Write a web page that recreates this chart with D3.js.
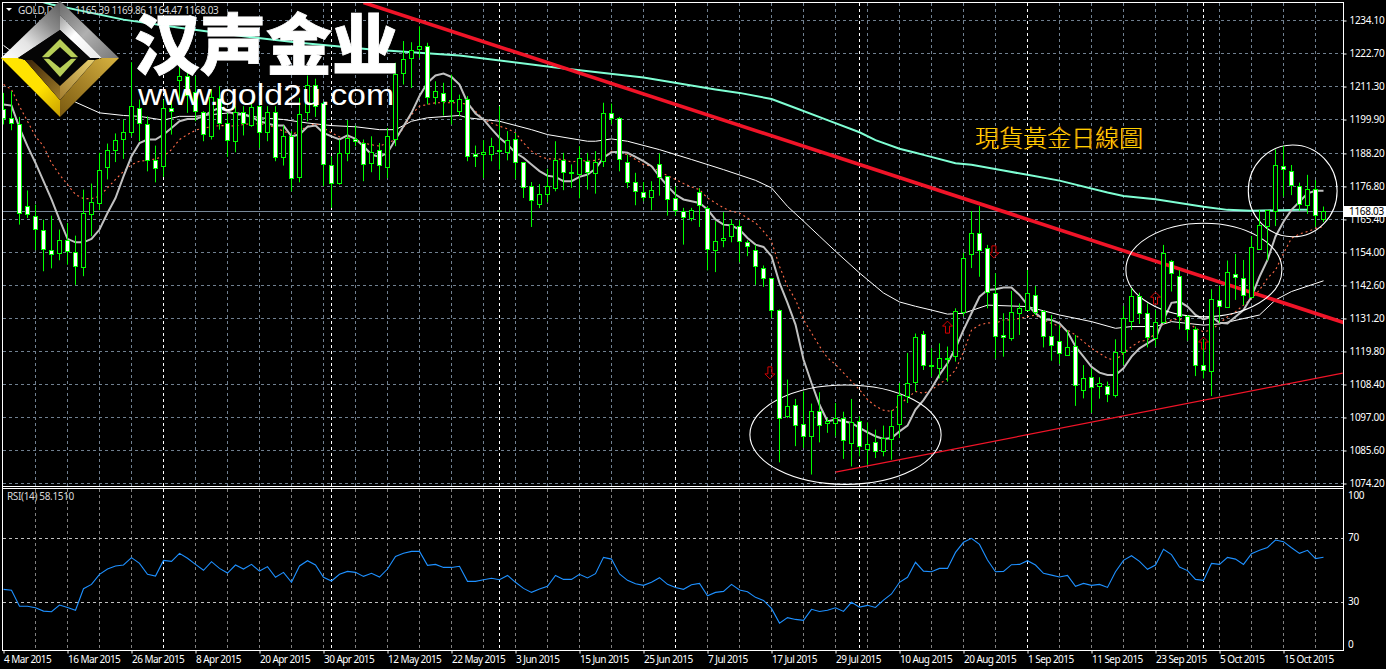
<!DOCTYPE html>
<html><head><meta charset="utf-8"><title>GOLD Daily</title>
<script src="https://cdnjs.cloudflare.com/ajax/libs/d3/7.8.5/d3.min.js"></script>
<style>html,body{margin:0;padding:0;background:#000;overflow:hidden}svg{display:block}text{font-family:"Noto Sans",sans-serif}</style>
</head><body><div id="c"></div>
<script>
const highs=[1209.1,1209.7,1200.8,1175.4,1170.5,1165.3,1166.7,1161.9,1164.2,1159.8,1175.7,1177.8,1188.4,1191.6,1195.1,1199.9,1219.7,1206.8,1201.0,1190.9,1206.8,1208.0,1218.3,1217.2,1214.9,1202.8,1210.3,1211.4,1202.2,1204.5,1204.5,1206.8,1206.8,1204.5,1204.5,1197.8,1195.9,1207.4,1215.1,1214.0,1206.2,1187.2,1193.0,1199.7,1197.8,1193.0,1194.1,1191.8,1197.0,1219.5,1227.0,1226.6,1232.1,1226.4,1213.1,1212.6,1215.4,1208.5,
1208.0,1190.9,1192.8,1193.6,1204.5,1195.9,1195.3,1185.2,1178.3,1177.6,1182.9,1192.4,1188.4,1184.4,1190.7,1188.4,1189.0,1205.7,1205.4,1200.8,1187.8,1181.5,1178.3,1178.6,1188.2,1180.3,1176.9,1169.4,1169.4,1176.2,1170.0,1164.8,1167.9,1165.4,1165.1,1158.2,1156.6,1149.5,1145.2,1134.3,1110.1,1103.4,1106.0,1101.8,1105.7,1096.8,1102.0,1099.0,1103.4,1097.4,1095.3,1092.8,1094.2,1099.5,1108.9,1119.3,1126.0,
1126.9,1120.9,1122.6,1121.5,1134.7,1153.9,1168.3,1170.0,1156.6,1146.8,1133.0,1140.7,1136.4,1147.9,1142.4,1134.1,1132.4,1128.9,1127.2,1125.5,1115.1,1114.0,1110.9,1109.4,1124.0,1135.5,1141.6,1140.1,1136.4,1134.1,1156.6,1151.4,1147.9,1132.4,1128.4,1124.0,1141.3,1142.4,1151.2,1153.5,1151.4,1159.7,1168.7,1168.7,1189.6,1190.8,1184.2,1178.1,1180.8,1179.0,1169.86];
const lows=[1198.2,1196.2,1163.6,1165.9,1154.8,1147.5,1148.5,1151.3,1149.8,1142.8,1145.8,1159.6,1168.6,1179.2,1185.2,1186.3,1194.1,1192.4,1182.0,1178.2,1180.1,1194.7,1206.8,1202.2,1199.3,1192.4,1193.0,1196.4,1187.0,1188.6,1194.4,1197.4,1190.1,1192.4,1185.5,1184.0,1175.1,1178.2,1199.3,1200.8,1176.9,1169.4,1177.4,1185.5,1190.7,1178.6,1181.7,1179.0,1179.7,1190.7,1212.0,1210.8,1221.2,1205.1,1205.1,1201.3,1198.2,1201.0,
1185.5,1183.5,1179.7,1185.5,1182.6,1185.8,1179.4,1172.8,1162.8,1169.3,1171.3,1175.1,1175.5,1176.3,1172.7,1175.7,1174.3,1183.5,1198.2,1182.0,1176.2,1170.3,1171.7,1168.6,1173.6,1166.7,1166.7,1156.7,1164.8,1162.8,1147.8,1147.2,1155.8,1157.5,1150.6,1152.7,1142.8,1142.1,1131.3,1081.5,1096.8,1087.1,1086.5,1077.3,1088.4,1091.7,1090.5,1082.7,1080.1,1083.6,1080.7,1083.0,1083.6,1082.4,1089.9,1102.0,1106.0,
1113.4,1111.1,1110.5,1109.4,1116.3,1132.0,1148.6,1145.6,1134.7,1117.3,1118.0,1123.5,1125.5,1133.9,1132.4,1121.2,1116.6,1115.5,1118.5,1101.0,1103.6,1098.6,1103.5,1102.3,1103.9,1115.1,1127.2,1129.3,1121.2,1121.5,1129.5,1140.5,1127.4,1123.5,1111.3,1110.5,1104.4,1129.7,1134.8,1137.6,1135.8,1138.2,1155.1,1151.2,1163.1,1173.3,1173.8,1168.4,1167.3,1162.9,1164.47];
const opens=[1203.3,1200.1,1198.2,1170.0,1166.5,1161.7,1154.8,1153.8,1158.2,1154.1,1149.0,1167.0,1171.1,1183.5,1189.3,1192.8,1195.5,1203.6,1198.3,1185.8,1183.5,1203.6,1213.1,1214.6,1209.1,1202.4,1193.9,1207.0,1198.4,1192.4,1202.4,1197.8,1204.5,1195.6,1202.4,1186.7,1193.9,1180.1,1202.2,1211.6,1205.4,1184.1,1177.8,1188.0,1193.0,1191.6,1184.7,1189.3,1183.2,1193.0,1215.8,1221.2,1224.1,1225.2,1207.7,1208.9,1206.3,1202.8,
1206.8,1187.7,1187.7,1187.7,1189.3,1188.7,1193.0,1185.2,1176.6,1170.6,1173.9,1176.3,1185.8,1181.5,1180.8,1185.5,1181.5,1185.3,1201.9,1200.1,1185.2,1178.3,1174.6,1172.8,1184.2,1180.1,1172.5,1168.2,1165.8,1174.6,1169.3,1154.8,1158.2,1159.4,1163.1,1157.5,1154.8,1148.6,1145.1,1134.0,1097.4,1101.2,1094.7,1090.7,1099.2,1094.9,1095.1,1096.7,1088.2,1095.7,1085.9,1088.2,1085.2,1089.4,1094.4,1104.5,1108.9,
1125.8,1115.1,1113.9,1117.3,1117.8,1133.5,1153.2,1160.6,1155.4,1139.9,1125.4,1124.4,1133.0,1133.9,1139.2,1133.7,1124.9,1123.2,1118.5,1121.5,1106.3,1110.9,1107.9,1107.6,1104.8,1119.2,1130.2,1138.9,1133.0,1124.3,1130.0,1150.9,1145.6,1131.8,1127.4,1115.0,1112.9,1137.3,1134.8,1146.4,1144.9,1138.7,1155.1,1162.9,1168.2,1183.6,1181.9,1176.7,1170.3,1175.8,1165.39];
const closes=[1200.1,1198.5,1167.3,1167.4,1161.9,1155.2,1153.5,1158.2,1154.4,1149.2,1167.6,1171.1,1182.4,1189.3,1192.8,1195.3,1204.5,1198.3,1185.8,1183.1,1203.6,1202.4,1214.6,1208.0,1202.4,1194.7,1207.4,1198.4,1192.5,1202.4,1198.5,1203.9,1195.6,1202.4,1187.0,1193.9,1179.4,1201.7,1211.6,1204.5,1184.2,1178.0,1188.0,1193.2,1192.2,1184.2,1188.4,1184.0,1193.9,1215.6,1220.6,1223.8,1225.2,1207.7,1209.7,1206.1,1205.9,1206.8,
1187.0,1187.0,1188.4,1190.5,1189.0,1192.8,1184.9,1176.6,1171.8,1173.9,1176.6,1185.8,1181.8,1181.2,1186.3,1181.8,1185.2,1201.9,1200.1,1186.1,1178.4,1175.3,1172.8,1175.3,1179.7,1172.0,1168.2,1166.3,1168.6,1170.0,1155.2,1157.9,1158.9,1163.5,1158.0,1156.1,1149.2,1145.2,1134.2,1096.8,1100.9,1094.2,1090.7,1099.2,1094.2,1095.5,1096.7,1089.0,1095.3,1087.1,1087.7,1085.2,1089.6,1093.9,1104.5,1108.9,1124.5,
1115.0,1114.8,1117.4,1117.5,1133.5,1152.0,1160.6,1154.6,1140.1,1124.9,1124.6,1133.3,1134.7,1139.9,1133.5,1124.9,1121.9,1119.2,1121.2,1107.9,1110.5,1107.6,1108.8,1104.9,1119.6,1131.1,1138.9,1133.0,1124.7,1129.7,1153.7,1146.6,1131.8,1127.2,1114.8,1113.2,1137.8,1135.3,1147.0,1145.4,1139.0,1155.8,1163.4,1168.4,1184.1,1182.7,1177.0,1170.5,1175.8,1166.8,1168.03];
const fastMA=[1205.1,1204.7,1197.0,1190.7,1184.9,1178.6,1172.3,1165.3,1158.7,1157.5,1157.5,1158.7,1161.9,1167.6,1172.8,1180.3,1187.2,1191.8,1193.0,1193.0,1194.7,1197.0,1199.3,1200.1,1200.1,1201.0,1202.8,1203.9,1202.8,1201.6,1201.6,1200.8,1199.3,1198.5,1197.8,1197.8,1194.1,1194.7,1197.4,1197.8,1195.3,1194.1,1193.0,1194.4,1193.2,1190.7,1187.8,1187.0,1188.4,1193.0,1197.6,1202.2,1208.0,1212.6,1215.1,1215.8,1214.6,1212.0,
1205.7,1202.0,1199.9,1196.7,1193.6,1191.3,1188.4,1186.7,1184.4,1182.1,1180.5,1180.1,1178.6,1178.6,1180.1,1180.9,1182.9,1186.7,1188.6,1188.8,1188.4,1187.0,1185.5,1183.8,1180.3,1176.9,1174.0,1172.3,1171.7,1171.1,1168.8,1165.4,1163.6,1163.3,1161.9,1159.0,1156.7,1155.9,1152.7,1143.5,1136.6,1129.1,1117.0,1108.9,1101.4,1095.7,1096.3,1095.7,1095.1,1093.4,1091.9,1090.5,1089.6,1089.9,1092.2,1094.2,1099.7,
1103.0,1107.1,1111.7,1115.7,1120.9,1127.2,1133.0,1138.7,1141.0,1141.3,1141.9,1141.9,1139.3,1135.8,1133.0,1130.9,1130.7,1129.5,1126.6,1121.5,1118.0,1114.5,1112.5,1111.7,1111.7,1114.0,1118.0,1120.9,1122.6,1124.3,1130.7,1136.6,1137.0,1135.3,1132.4,1130.9,1131.8,1129.7,1129.5,1131.8,1134.1,1138.7,1145.6,1151.4,1159.5,1164.6,1168.7,1171.5,1174.4,1175.3,1175.3];
const dottedMA=[1212.0,1210.3,1204.5,1199.3,1194.1,1190.7,1184.9,1180.9,1177.4,1174.0,1172.6,1172.6,1173.4,1176.3,1179.2,1182.0,1184.3,1185.5,1185.8,1186.3,1187.2,1189.5,1193.0,1194.7,1196.2,1197.0,1197.4,1197.8,1197.8,1197.6,1198.2,1198.5,1198.4,1198.2,1197.0,1195.9,1194.7,1195.9,1197.6,1198.5,1197.0,1195.3,1193.9,1193.6,1193.0,1191.8,1191.2,1190.7,1191.8,1193.0,1197.0,1201.6,1204.5,1205.1,1205.7,1205.7,1205.7,1205.7,
1205.1,1202.8,1199.9,1198.7,1197.6,1196.7,1195.3,1191.8,1189.0,1187.2,1186.3,1186.3,1186.1,1185.2,1185.8,1185.5,1185.8,1186.7,1189.0,1188.4,1187.8,1186.1,1184.4,1183.8,1182.0,1180.5,1179.2,1177.8,1176.6,1175.7,1172.8,1171.1,1169.4,1168.2,1167.6,1165.9,1164.2,1161.3,1157.9,1149.2,1142.3,1137.7,1130.8,1126.2,1121.6,1117.6,1115.3,1112.4,1109.5,1106.6,1103.2,1100.9,1099.5,1099.1,1101.4,1103.8,1106.0,
1105.3,1106.5,1108.6,1110.5,1113.4,1119.7,1127.2,1128.9,1129.7,1129.5,1130.7,1130.7,1131.2,1131.8,1132.4,1130.7,1129.5,1128.4,1127.2,1125.5,1123.2,1120.9,1119.2,1117.4,1116.8,1119.2,1121.5,1123.2,1123.8,1126.0,1129.5,1130.7,1130.9,1130.1,1127.8,1126.6,1127.2,1129.5,1131.8,1133.5,1135.8,1138.1,1141.0,1145.1,1147.9,1153.7,1158.9,1160.4,1161.2,1162.3,1162.9];
const midMAIdx=[0,4,9,12,15,17,20,22,24,26,29,32,35,38,41,44,47,49,51,53,57,58,62,66,68,73,74,76,78,82,86,90,94,96,98,100,102,104,107,110,112,114,116,118,120,123,128,132,136,139,141,144,146,150,152,157,159,161,165];
const midMAVal=[1225.5,1217.2,1205.9,1202.2,1201.3,1201.0,1199.7,1201.0,1201.0,1201.6,1202.4,1200.5,1199.9,1198.7,1197.8,1197.4,1196.4,1196.4,1199.3,1200.5,1201.3,1200.5,1199.3,1196.4,1194.7,1192.4,1192.4,1193.2,1192.4,1189.5,1186.1,1182.6,1178.9,1176.3,1169.9,1164.8,1159.6,1154.4,1146.9,1140.0,1136.9,1135.4,1134.1,1132.7,1133.0,1135.8,1135.3,1132.4,1130.1,1127.8,1128.4,1128.4,1130.1,1128.9,1129.3,1132.4,1137.6,1140.5,1144.2];
const slowMAIdx=[5,6,15,22,30,37,46,57,69,80,89,92,96,99,103,107,109,112,114,115,119,121,125,128,132,138,140,144,150,153,156,162,163];
const slowMAVal=[1240.4,1239.6,1234.4,1231.6,1228.7,1226.4,1224.1,1222.0,1217.9,1214.4,1210.3,1209.1,1207.0,1203.9,1199.7,1195.5,1192.8,1189.8,1188.4,1187.7,1184.8,1184.3,1182.3,1180.8,1178.8,1174.7,1173.5,1172.4,1169.8,1168.7,1168.4,1168.7,1168.7];
const rsiValues=[38.1,37.5,27.5,27.5,26.6,24.5,24.1,28.3,26.8,25.0,38.5,41.2,47.5,50.8,52.7,53.3,57.9,54.3,47.5,46.4,56.2,55.6,60.6,57.5,53.7,50.0,55.4,51.2,48.3,53.3,50.8,53.7,49.5,52.3,45.6,48.7,42.5,52.7,56.0,53.3,45.6,43.3,47.5,49.3,48.7,46.2,48.1,45.8,50.8,58.7,60.6,61.8,61.8,53.1,53.7,51.8,51.8,52.5,
43.1,43.1,44.1,45.0,44.1,46.8,42.5,38.7,36.2,38.3,40.0,46.8,44.3,44.3,47.5,45.2,47.9,58.1,57.0,47.7,43.7,41.6,40.6,42.5,45.4,41.2,39.3,38.1,41.0,41.8,34.1,36.2,36.8,41.2,37.7,36.6,33.1,31.2,26.2,17.0,20.4,19.3,18.7,25.6,24.3,25.0,26.6,24.3,30.0,27.0,28.1,26.8,31.4,35.2,42.5,45.6,55.0,
49.5,49.1,51.2,51.2,61.2,67.5,70.0,66.2,56.4,49.1,49.3,53.5,53.7,56.0,53.3,48.1,47.0,45.8,46.8,40.0,41.8,40.6,41.2,39.3,49.1,56.2,59.1,55.6,50.6,53.3,63.1,59.8,52.0,49.8,44.3,43.7,54.3,53.7,58.1,57.0,53.7,60.4,62.5,64.3,68.9,67.9,64.1,60.6,62.5,57.3,58.15];
const priceTicks=[1234.10,1222.70,1211.30,1199.90,1188.20,1176.80,1165.40,1154.00,1142.60,1131.20,1119.80,1108.40,1097.00,1085.60,1074.20];
const rsiLevels=[70,30];
const rsiLabels=[100,70,30,0];
const dateIdx=[0,8,16,24,32,40,48,56,64,72,80,88,96,104,112,120,128,136,144,152,160];
const dateLabels=["4 Mar 2015","16 Mar 2015","26 Mar 2015","8 Apr 2015","20 Apr 2015","30 Apr 2015","12 May 2015","22 May 2015","3 Jun 2015","15 Jun 2015","25 Jun 2015","7 Jul 2015","17 Jul 2015","29 Jul 2015","10 Aug 2015","20 Aug 2015","1 Sep 2015","11 Sep 2015","23 Sep 2015","5 Oct 2015","15 Oct 2015"];
const monthStartIdx=[20,41,62,84,107,128,150];
const trendThick=[[45,1240.3],[167.5,1129.8]];
const trendThin=[[104,1078.1],[167.4,1112.3]];
const ellipses=[[93.3,1108.2,117.2,1073.9],[140.3,1164.1,159.8,1131.8],[155.6,1191.1,166.7,1159.4]];
const arrowsDown=[[95.8,1112.4],[123.8,1154.2]];
const arrowsUp=[[118,1128.2],[144,1138.2],[150,1122.7]];

const W=1386,H=669,paneR=1343.5;
const x=d3.scaleLinear().domain([0,165]).range([3.5,1323.5]);
const y=d3.scaleLinear().domain([1074.2,1234.1]).range([483.5,20.5]);
const yr=d3.scaleLinear().domain([0,100]).range([650.3,490.3]);
const px=v=>Math.round(v-.5)+.5;
const svg=d3.select("#c").append("svg").attr("width",W).attr("height",H).attr("viewBox",`0 0 ${W} ${H}`);
const defs=svg.append("defs");
defs.append("clipPath").attr("id","mainClip").append("rect").attr("x",3).attr("y",3).attr("width",paneR-3).attr("height",483);
defs.append("clipPath").attr("id","rsiClip").append("rect").attr("x",3).attr("y",489).attr("width",paneR-3).attr("height",161);
function grad(id,a,b,stops){const g=defs.append("linearGradient").attr("id",id).attr("x1",a[0]).attr("y1",a[1]).attr("x2",b[0]).attr("y2",b[1]);stops.forEach(s=>g.append("stop").attr("offset",s[0]).attr("stop-color",s[1]));}
grad("gTL",[0,1],[1,0],[[0,"#ffffff"],[.35,"#e4e4e4"],[.7,"#8c8c8c"],[1,"#5c5c5c"]]);
grad("gTR",[0,0],[1,1],[[0,"#6a6a6a"],[.5,"#b0b0b0"],[1,"#777777"]]);
grad("gTW",[0,0],[1,1],[[0,"#9a9a9a"],[.4,"#ffffff"],[1,"#e8e8e8"]]);
grad("gBL",[0,0],[1,1],[[0,"#ffe600"],[.6,"#ffe000"],[1,"#c8a000"]]);
grad("gBR",[0,1],[1,0],[[0,"#7a5a10"],[.5,"#a88428"],[1,"#d8b440"]]);
grad("gRL",[0,0],[1,1],[[0,"#3a2408"],[1,"#a07c28"]]);
grad("gRR",[0,1],[1,0],[[0,"#a47e30"],[1,"#e8d070"]]);

svg.append("rect").attr("width",W).attr("height",H).attr("fill","#000");
const main=svg.append("g").attr("clip-path","url(#mainClip)");
const rsi=svg.append("g").attr("clip-path","url(#rsiClip)");

// grid
const gridIdx=d3.range(4,166,4).filter(i=>!monthStartIdx.includes(i));
const drawGrid=(g,col,y0,y1)=>{
  g.selectAll(null).data(gridIdx).join("line").attr("x1",d=>px(x(d))).attr("x2",d=>px(x(d))).attr("y1",y0).attr("y2",y1).attr("stroke",col).attr("stroke-dasharray","3,3");
  g.selectAll(null).data(monthStartIdx).join("line").attr("x1",d=>px(x(d))).attr("x2",d=>px(x(d))).attr("y1",y0).attr("y2",y1).attr("stroke","#fff").attr("stroke-dasharray","3,3");
};
main.selectAll(null).data(priceTicks).join("line").attr("x1",3).attr("x2",paneR).attr("y1",d=>px(y(d))).attr("y2",d=>px(y(d))).attr("stroke","#708090").attr("stroke-dasharray","3,3");
drawGrid(main,"#708090",3,486);
drawGrid(rsi,"#808080",489,650);
rsi.selectAll(null).data(rsiLevels).join("line").attr("x1",3).attr("x2",paneR).attr("y1",d=>px(yr(d))).attr("y2",d=>px(yr(d))).attr("stroke","#c0c0c0").attr("stroke-dasharray","3,3");

// indicators
const lineI=d3.line().x((d,i)=>x(i)).y(d=>y(d));
const lineK=d3.line().x(d=>x(d[0])).y(d=>y(d[1]));
main.append("line").attr("x1",3).attr("x2",paneR).attr("y1",px(y(closes[165]))).attr("y2",px(y(closes[165]))).attr("stroke","#778899");
main.append("path").attr("d",lineK(midMAIdx.map((d,i)=>[d,midMAVal[i]]))).attr("fill","none").attr("stroke","#fff").attr("stroke-width",1);
main.append("path").attr("d",lineI(dottedMA)).attr("fill","none").attr("stroke","#ff6a48").attr("stroke-width",1.1).attr("stroke-dasharray","2,3");
main.append("path").attr("d",lineK(slowMAIdx.map((d,i)=>[d,slowMAVal[i]]))).attr("fill","none").attr("stroke","#7fffd4").attr("stroke-width",2);
main.append("path").attr("d",lineI(fastMA)).attr("fill","none").attr("stroke","#c0c0c0").attr("stroke-width",2);
// objects
main.append("path").attr("d",lineK(trendThick)).attr("stroke","#f01428").attr("stroke-width",3.6).attr("fill","none");
main.append("path").attr("d",lineK(trendThin)).attr("stroke","#f01428").attr("stroke-width",1.2).attr("fill","none");
main.selectAll(null).data(ellipses).join("ellipse")
 .attr("cx",d=>(x(d[0])+x(d[2]))/2).attr("cy",d=>(y(d[1])+y(d[3]))/2)
 .attr("rx",d=>(x(d[2])-x(d[0]))/2).attr("ry",d=>(y(d[3])-y(d[1]))/2)
 .attr("fill","none").attr("stroke","#fff").attr("stroke-width",1.1);
const arrow=(s)=>`M0,${6*s} L-5,${1*s} L-2,${1*s} L-2,${-6*s} L2,${-6*s} L2,${1*s} L5,${1*s} Z`;
main.selectAll(null).data(arrowsDown).join("path").attr("d",arrow(1)).attr("transform",d=>`translate(${x(d[0])},${y(d[1])})`).attr("fill","none").attr("stroke","#d00000");
main.selectAll(null).data(arrowsUp).join("path").attr("d",arrow(-1)).attr("transform",d=>`translate(${x(d[0])},${y(d[1])})`).attr("fill","none").attr("stroke","#d00000");

// candles
const idx=d3.range(166);
const cg=main.append("g");
cg.selectAll(null).data(idx).join("line").attr("x1",i=>x(i)).attr("x2",i=>x(i)).attr("y1",i=>y(highs[i])).attr("y2",i=>y(lows[i])).attr("stroke","#00ff00");
cg.selectAll(null).data(idx).join("rect")
 .attr("x",i=>x(i)-2).attr("width",4)
 .attr("y",i=>px(y(Math.max(opens[i],closes[i]))))
 .attr("height",i=>Math.max(1,Math.round(Math.abs(y(opens[i])-y(closes[i])))))
 .attr("fill",i=>closes[i]>=opens[i]?"#000":"#fff").attr("stroke","#00ff00");

// RSI
rsi.append("path").attr("d",d3.line().x((d,i)=>x(i)).y(d=>yr(d))(rsiValues)).attr("fill","none").attr("stroke","#1e90ff").attr("stroke-width",1.1);

// frame
const fr=svg.append("g").attr("stroke","#fff").attr("fill","none");
fr.append("line").attr("x1",2.5).attr("x2",2.5).attr("y1",2).attr("y2",651);
fr.append("line").attr("x1",paneR).attr("x2",paneR).attr("y1",2).attr("y2",651);
[2.5,486.5,488.5,650.5].forEach(v=>fr.append("line").attr("x1",2).attr("x2",paneR).attr("y1",v).attr("y2",v));
const yAxis=d3.axisRight(y).tickValues(priceTicks).tickFormat(d3.format(".2f")).tickSize(3).tickPadding(3);
const ya=svg.append("g").attr("transform",`translate(${paneR},0)`).call(yAxis);
ya.select(".domain").remove();
ya.selectAll("line").attr("stroke","#fff");
ya.selectAll("text").attr("fill","#fff").attr("font-size",10).attr("font-family","Noto Sans").attr("letter-spacing","-0.3");
const xAxis=d3.axisBottom(x).tickValues(dateIdx).tickSize(3).tickPadding(2).tickFormat((d,i)=>dateLabels[i]);
const xa=svg.append("g").attr("transform","translate(0,650.5)").call(xAxis);
xa.select(".domain").remove();
xa.selectAll("line").attr("stroke","#fff");
xa.selectAll("text").attr("fill","#fff").attr("font-size",10).attr("text-anchor","start").attr("font-family","Noto Sans").attr("letter-spacing","-0.55");
svg.selectAll(null).data(rsiLabels).join("text").attr("x",1348).attr("y",d=>d===100?499:d===0?648:yr(d)+3).attr("fill","#fff").attr("font-size",10).attr("letter-spacing","-0.3").text(d=>d);
// current price tag
const tagY=px(y(closes[165]));
svg.append("rect").attr("x",1344).attr("y",tagY-5.5).attr("width",42).attr("height",11).attr("fill","#fff");
svg.append("text").attr("x",1349).attr("y",tagY+3.5).attr("fill","#000").attr("font-size",10).attr("letter-spacing","-0.3").text(closes[165].toFixed(2));

// headers
svg.append("path").attr("d","M6,8 L12,8 L9,11 Z").attr("fill","#fff");
svg.append("text").attr("x",18).attr("y",14).attr("fill","#d8d8d8").attr("font-size",10).attr("letter-spacing","-0.3").text("GOLD,Daily");
svg.append("text").attr("x",75).attr("y",14).attr("fill","#d8d8d8").attr("font-size",10).attr("letter-spacing","-0.4").text("1165.39 1169.86 1164.47 1168.03");
svg.append("text").attr("x",7).attr("y",500).attr("fill","#d8d8d8").attr("font-size",10).attr("letter-spacing","-0.35").text("RSI(14) 58.1510");

// logo
const logo=svg.append("g");
const poly=(p,f)=>logo.append("polygon").attr("points",p).attr("fill",f);
poly("60,1 1,58 18,58 60,30","url(#gTL)");
poly("60,1 119,58 102,58 60,15","url(#gTR)");
poly("60,15 102,58 90,58 60,30","url(#gTW)");
poly("1,58 60,117 60,100 25,60 18,58","url(#gBL)");
poly("119,58 60,117 60,100 95,60 102,58","url(#gBR)");
poly("60,30 18,58 25,60 60,100 95,60 90,58","#050505");
poly("25,60 60,100 60,86 32,60","url(#gRL)");
poly("95,60 60,100 60,86 88,60","url(#gRR)");
poly("60,39 42,57 60,77 78,57","#b8cf58");
poly("60,47 48,58 60,68 72,58","#050505");
logo.append("line").attr("x1",41).attr("x2",79).attr("y1",58).attr("y2",58).attr("stroke","#050505").attr("stroke-width",1.4);
svg.append("text").attr("x",134).attr("y",69).attr("fill","#fff").attr("stroke","#fff").attr("stroke-width",.8).attr("font-size",66).attr("font-weight",900).style("font-family","'Noto Sans CJK SC'").text("汉声金业");
svg.append("text").attr("transform","translate(138,105) scale(1.13,1)").attr("fill","#fff").attr("font-size",30).style("font-family","'Liberation Sans'").text("www.gold2u.com");
svg.append("text").attr("x",975).attr("y",147).attr("fill","#ffd000").attr("font-size",24).attr("font-weight",300).style("font-family","'Noto Sans CJK TC'").style("filter","drop-shadow(1px 0 0 #b85000)").text("現貨黃金日線圖");
</script></body></html>
